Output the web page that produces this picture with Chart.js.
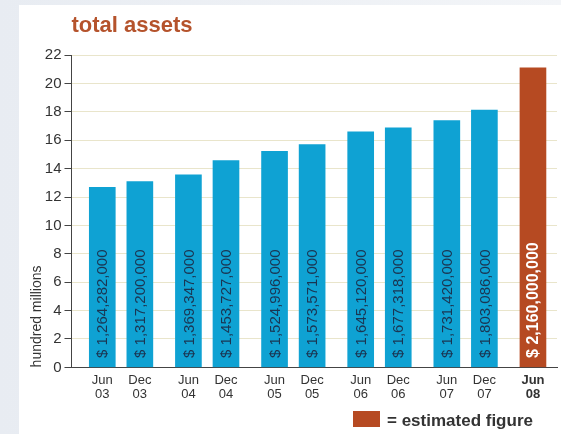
<!DOCTYPE html>
<html lang="en">
<head>
<meta charset="UTF-8">
<meta name="viewport" content="width=device-width, initial-scale=1.0">
<script src="https://cdn.jsdelivr.net/npm/chart.js"></script>
<title>total assets</title>
<style>
  html, body { margin: 0; padding: 0; }
  body {
    width: 561px; height: 434px; position: relative; overflow: hidden;
    background: linear-gradient(to right, #e8ecf2, #f3f5f8);
  }
  #panel { position: absolute; left: 19px; top: 5px; right: 0; bottom: 0; background: #fff; }
  #assetsChart { position: absolute; left: 0; top: 0; }
</style>
</head>
<body>
<div id="panel"></div>
<canvas id="assetsChart" width="561" height="434"></canvas>
<script>
// half-year periods, two per year
const periods = [
  ['Jun', '03'], ['Dec', '03'], ['Jun', '04'], ['Dec', '04'], ['Jun', '05'], ['Dec', '05'],
  ['Jun', '06'], ['Dec', '06'], ['Jun', '07'], ['Dec', '07'], ['Jun', '08']
]
// bar heights, hundred millions
const assets = [12.68, 13.08, 13.56, 14.57, 15.22, 15.70, 16.59, 16.87, 17.39, 18.12, 21.1]
const amountLabels = [
  '$ 1,264,282,000', '$ 1,317,200,000', '$ 1,369,347,000', '$ 1,453,727,000',
  '$ 1,524,996,000', '$ 1,573,571,000', '$ 1,645,120,000', '$ 1,677,318,000',
  '$ 1,731,420,000', '$ 1,803,086,000', '$ 2,160,000,000'
]
const estimated = [false, false, false, false, false, false, false, false, false, false, true]
const yTicks = [0, 2, 4, 6, 8, 10, 12, 14, 16, 18, 20, 22]

const FONT = "'Liberation Sans', Arial, sans-serif"
const BLUE = '#0fa2d3'
const RUST = '#b64a22'
const PAIR_STEP = 2.293   // years sit a bit further apart than Jun/Dec in a year

function slot(i) {
  return Math.floor(i / 2) * PAIR_STEP + (i % 2)
}

const barText = {
  id: 'barText',
  afterDatasetsDraw(chart) {
    const ctx = chart.ctx
    chart.getDatasetMeta(0).data.forEach((bar, i) => {
      ctx.save()
      ctx.translate(bar.x, bar.base - 9)
      ctx.rotate(-Math.PI / 2)
      ctx.textAlign = 'left'
      ctx.textBaseline = 'middle'
      if (estimated[i]) {
        ctx.font = 'bold 16px ' + FONT
        ctx.fillStyle = '#ffffff'
      } else {
        ctx.font = '15px ' + FONT
        ctx.fillStyle = '#1b3552'
      }
      ctx.fillText(amountLabels[i], 0, 1)
      ctx.restore()
    })
  }
}

const headline = {
  id: 'headline',
  afterDraw(chart) {
    const ctx = chart.ctx
    const area = chart.chartArea
    ctx.save()
    ctx.font = 'bold 22px ' + FONT
    ctx.fillStyle = '#b5532c'
    ctx.textBaseline = 'alphabetic'
    ctx.fillText('total assets', area.left, 32)
    // key for the estimated bar
    const bx = area.right - 204
    ctx.fillStyle = RUST
    ctx.fillRect(bx, 411, 27, 16)
    ctx.font = 'bold 17px ' + FONT
    ctx.fillStyle = '#333333'
    ctx.fillText('= estimated figure', bx + 34, 426)
    ctx.restore()
  }
}

new Chart(document.getElementById('assetsChart'), {
  type: 'bar',
  data: {
    datasets: [{
      label: 'total assets',
      data: assets.map((v, i) => ({ x: slot(i), y: v })),
      backgroundColor: estimated.map(e => e ? RUST : BLUE),
      borderWidth: 0,
      barThickness: 26
    }]
  },
  options: {
    responsive: false,
    animation: false,
    layout: { padding: { left: 25, right: 4, top: 55, bottom: 26 } },
    scales: {
      x: {
        type: 'linear',
        offset: false,
        min: -0.82,
        max: 5 * PAIR_STEP + 0.64,
        grid: { display: false, drawTicks: false, offset: false },
        border: { color: '#444', width: 1 },
        afterBuildTicks: axis => { axis.ticks = periods.map((p, i) => ({ value: slot(i) })) },
        ticks: {
          autoSkip: false,
          maxRotation: 0,
          padding: 6,
          color: '#333',
          callback: (v, i) => periods[i],
          font: c => ({ family: FONT, size: 13, lineHeight: 1.1, weight: c.index === periods.length - 1 ? 'bold' : 'normal' })
        }
      },
      y: {
        min: 0,
        max: 22,
        afterBuildTicks: axis => { axis.ticks = yTicks.map(v => ({ value: v })) },
        grid: { color: '#e9e5cb', tickColor: '#444', tickLength: 7 },
        border: { color: '#444', width: 1 },
        ticks: { padding: 3, color: '#333', font: { family: FONT, size: 15 } },
        title: {
          display: true,
          text: 'hundred millions',
          align: 'start',
          color: '#333',
          font: { family: FONT, size: 14 },
          padding: { top: 4, bottom: -4 }
        }
      }
    },
    plugins: {
      legend: { display: false },
      tooltip: { enabled: false }
    }
  },
  plugins: [barText, headline]
})
</script>
</body>
</html>
